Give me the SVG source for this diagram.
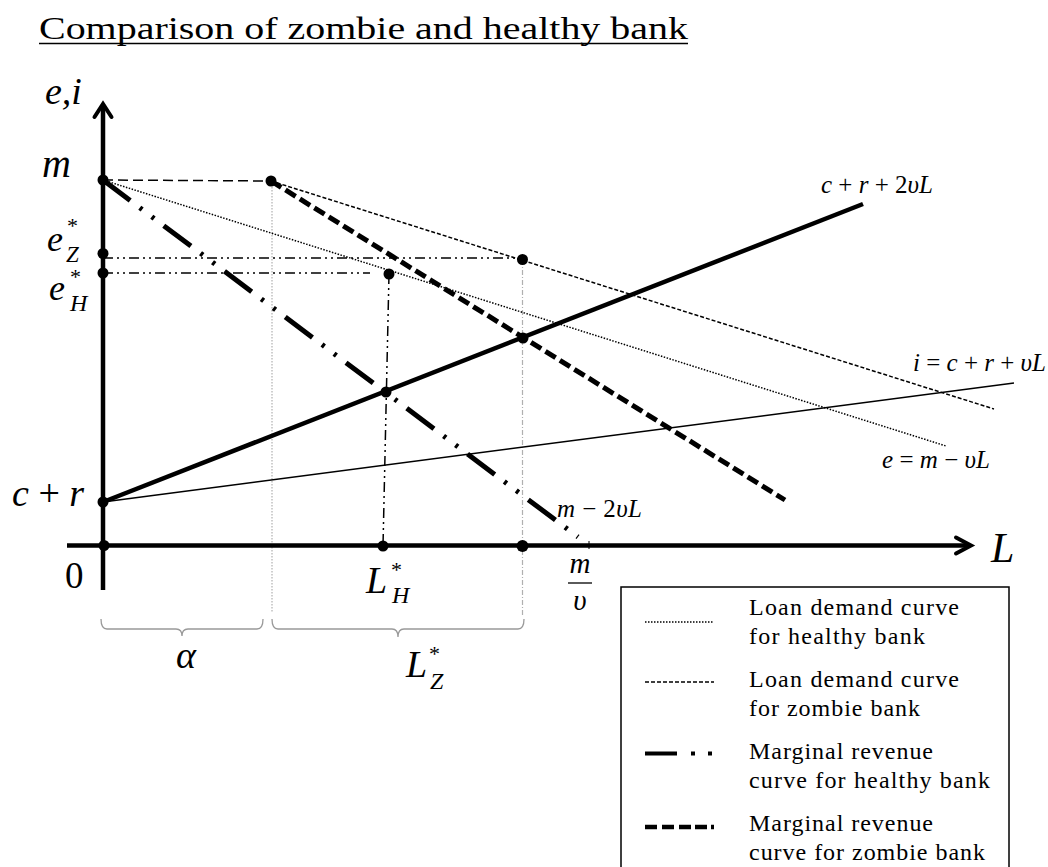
<svg xmlns="http://www.w3.org/2000/svg" width="1048" height="867" viewBox="0 0 1048 867">
<style>
  .t { font-family: "Liberation Serif", "Times New Roman", serif; fill: #000; }
  .it { font-style: italic; }
  .up { font-style: normal; }
  .axis { stroke: #000; stroke-width: 4.5; fill: none; }
  .arrow { stroke: #000; stroke-width: 4; fill: none; stroke-linecap: round; stroke-linejoin: miter; }
  .hdem { stroke: #000; stroke-width: 1.5; stroke-dasharray: 1.5 1.5; fill: none; }
  .zdem { stroke: #000; stroke-width: 1.5; stroke-dasharray: 4 2; fill: none; }
  .hmr { stroke: #000; stroke-width: 5; stroke-dasharray: 34 12 3 12 3 12; fill: none; }
  .zmr { stroke: #000; stroke-width: 5; stroke-dasharray: 12 5; fill: none; }
  .cost2 { stroke: #000; stroke-width: 4.5; fill: none; }
  .cost1 { stroke: #000; stroke-width: 1.5; fill: none; }
  .ddd { stroke: #000; stroke-width: 1.5; stroke-dasharray: 10 4 2 4 2 4; fill: none; }
  .mdash { stroke: #000; stroke-width: 1.5; stroke-dasharray: 10 5; fill: none; }
  .guide { stroke: #b0b0b0; stroke-width: 1.2; fill: none; }
  .bracket { stroke: #999; stroke-width: 1.3; fill: none; }
  .dot { fill: #000; }
</style>

<g id="title">
  <text class="t" x="39" y="39" font-size="31" textLength="649" lengthAdjust="spacingAndGlyphs">Comparison of zombie and healthy bank</text>
  <line x1="39" y1="43.5" x2="688" y2="43.5" stroke="#000" stroke-width="1.5"/>
</g>

<g id="connectors">
  <line class="guide" x1="272" y1="181" x2="272" y2="612" stroke-dasharray="1.5 1.5"/>
  <line class="guide" x1="522.5" y1="260" x2="522.5" y2="615" stroke-dasharray="5 2 1 2"/>
  <line class="mdash" x1="103" y1="180" x2="271" y2="181"/>
  <line class="hdem" x1="103" y1="180" x2="946" y2="446"/>
  <line class="zdem" x1="271" y1="181" x2="994" y2="409"/>
  <line class="cost1" x1="103" y1="502" x2="1014" y2="383"/>
  <line class="cost2" x1="103" y1="502" x2="863" y2="204"/>
  <line class="hmr" x1="103" y1="180" x2="578" y2="537"/>
  <line class="zmr" x1="271" y1="181" x2="785" y2="500"/>
  <line class="ddd" x1="103" y1="258" x2="522" y2="258"/>
  <line class="ddd" x1="103" y1="273" x2="370" y2="273"/>
  <line class="ddd" x1="389" y1="274" x2="383" y2="546"/>
  <line class="axis" x1="103" y1="105" x2="103" y2="590"/>
  <line class="axis" x1="67" y1="545.5" x2="970" y2="545.5"/>
  <polyline class="arrow" points="94.5,117 103,104 111.5,117"/>
  <polyline class="arrow" points="956,537.5 971,545.5 956,553.5"/>
  <line x1="589" y1="541" x2="589" y2="549" stroke="#000" stroke-width="1"/>
  <path class="bracket" d="M101,619 Q101,629 107,629 L176,629 Q182,629 182,636 Q182,629 188,629 L257,629 Q263,629 263,619"/>
  <path class="bracket" d="M272,619 Q272,629 278,629 L392,629 Q398,629 398,637 Q398,629 404,629 L518,629 Q524,629 524,619"/>
</g>

<g id="points">
  <circle class="dot" cx="103" cy="180" r="5.5"/>
  <circle class="dot" cx="271" cy="181" r="5.5"/>
  <circle class="dot" cx="103" cy="253.5" r="5.5"/>
  <circle class="dot" cx="103" cy="273" r="5.5"/>
  <circle class="dot" cx="522.5" cy="259.5" r="5.5"/>
  <circle class="dot" cx="389" cy="274" r="5.5"/>
  <circle class="dot" cx="523" cy="338" r="5.5"/>
  <circle class="dot" cx="386" cy="392" r="5.5"/>
  <circle class="dot" cx="103" cy="502" r="5.5"/>
  <circle class="dot" cx="104" cy="545.5" r="5.5"/>
  <circle class="dot" cx="383" cy="546" r="5.5"/>
  <circle class="dot" cx="522.5" cy="546" r="6"/>
</g>

<g id="axis-labels">
  <text class="t it" x="45" y="104" font-size="38">e,i</text>
  <text class="t it" x="42" y="177" font-size="40">m</text>
  <text class="t it" x="47" y="251" font-size="36">e</text>
  <text class="t up" x="67" y="233" font-size="22">*</text>
  <text class="t it" x="66" y="262" font-size="23">Z</text>
  <text class="t up" x="70" y="284" font-size="22">*</text>
  <text class="t it" x="49" y="300" font-size="36">e</text>
  <text class="t it" x="70" y="311" font-size="24">H</text>
  <text class="t" x="12" y="506" font-size="38"><tspan class="it">c</tspan> + <tspan class="it">r</tspan></text>
  <text class="t up" x="65" y="588" font-size="37">0</text>
  <text class="t it" x="991" y="562" font-size="42">L</text>
  <text class="t it" x="366" y="593" font-size="38">L</text>
  <text class="t up" x="391" y="577" font-size="22">*</text>
  <text class="t it" x="392" y="603" font-size="24">H</text>
  <text class="t it" x="176" y="668" font-size="38">α</text>
  <text class="t it" x="406" y="677" font-size="38">L</text>
  <text class="t up" x="429" y="661" font-size="22">*</text>
  <text class="t it" x="430" y="689" font-size="24">Z</text>
  <text class="t it" x="580" y="573" font-size="29" text-anchor="middle">m</text>
  <line x1="568" y1="583" x2="592" y2="583" stroke="#000" stroke-width="1.3"/>
  <text class="t it" x="580" y="610" font-size="29" text-anchor="middle">υ</text>
</g>

<g id="curve-labels">
  <text class="t" x="821" y="193" font-size="25" textLength="112"><tspan class="it">c</tspan> + <tspan class="it">r</tspan> + 2<tspan class="it">υL</tspan></text>
  <text class="t" x="913" y="371" font-size="25" textLength="133"><tspan class="it">i</tspan> = <tspan class="it">c</tspan> + <tspan class="it">r</tspan> + <tspan class="it">υL</tspan></text>
  <text class="t" x="882" y="468" font-size="25" textLength="108"><tspan class="it">e</tspan> = <tspan class="it">m</tspan> − <tspan class="it">υL</tspan></text>
  <text class="t" x="557" y="517" font-size="25" textLength="85"><tspan class="it">m</tspan> − 2<tspan class="it">υL</tspan></text>
</g>

<g id="legend">
  <rect x="621" y="587" width="388" height="300" fill="#fff" stroke="#000" stroke-width="1.5"/>
  <line class="hdem" x1="645" y1="622" x2="714" y2="622" stroke-dasharray="1.2 1.2" stroke-width="1.3"/>
  <line class="zdem" x1="645" y1="682" x2="714" y2="682" stroke-dasharray="4 2" stroke-width="1.3"/>
  <line stroke="#000" stroke-width="4" stroke-dasharray="32 14 4 13 4" x1="645" y1="753.5" x2="714" y2="753.5"/>
  <line stroke="#000" stroke-width="4.5" stroke-dasharray="12 5 12 5 12 4 12 4 4" x1="645" y1="827" x2="714" y2="827"/>
  <text class="t" x="749" y="615" font-size="24" textLength="210">Loan demand curve</text>
  <text class="t" x="749" y="644" font-size="24" textLength="176">for healthy bank</text>
  <text class="t" x="749" y="687" font-size="24" textLength="210">Loan demand curve</text>
  <text class="t" x="749" y="716" font-size="24" textLength="171">for zombie bank</text>
  <text class="t" x="749" y="759" font-size="24" textLength="184">Marginal revenue</text>
  <text class="t" x="749" y="788" font-size="24" textLength="241">curve for healthy bank</text>
  <text class="t" x="749" y="831" font-size="24" textLength="184">Marginal revenue</text>
  <text class="t" x="749" y="860" font-size="24" textLength="236">curve for zombie bank</text>
</g>
</svg>
